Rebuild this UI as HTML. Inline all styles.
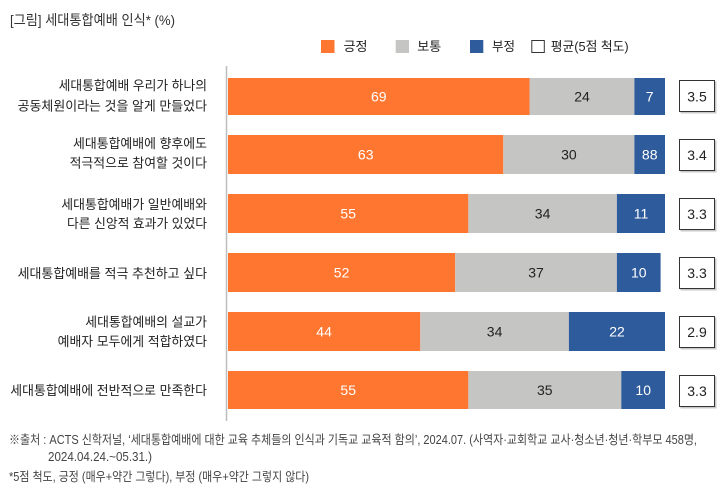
<!DOCTYPE html>
<html><head><meta charset="utf-8"><style>
html,body{margin:0;padding:0;background:#fff;}
svg{display:block;}
.k{font-family:"Liberation Sans","Noto Sans CJK KR",sans-serif;}
</style></head><body>
<svg width="728" height="490" viewBox="0 0 728 490" xmlns="http://www.w3.org/2000/svg">
<rect width="728" height="490" fill="#fff"/>
<!-- title -->
<text class="k" x="10" y="25" font-size="14" fill="#333" textLength="165" lengthAdjust="spacingAndGlyphs">[그림] 세대통합예배 인식* (%)</text>
<!-- legend -->
<rect x="321" y="40" width="13.5" height="13" fill="#FF7630"/>
<text class="k" x="343.5" y="51" font-size="13" fill="#222" textLength="24" lengthAdjust="spacingAndGlyphs">긍정</text>
<rect x="395.7" y="40" width="13.3" height="13" fill="#C5C5C3"/>
<text class="k" x="417.3" y="51" font-size="13" fill="#222" textLength="24" lengthAdjust="spacingAndGlyphs">보통</text>
<rect x="470" y="40" width="13.3" height="13" fill="#2E5B9B"/>
<text class="k" x="492" y="51" font-size="13" fill="#222" textLength="23" lengthAdjust="spacingAndGlyphs">부정</text>
<rect x="531.8" y="40.5" width="12.5" height="12" fill="#fff" stroke="#333" stroke-width="1"/>
<text class="k" x="550.7" y="51" font-size="13" fill="#222" textLength="78" lengthAdjust="spacingAndGlyphs">평균(5점 척도)</text>
<!-- axis -->
<line x1="226.5" y1="66" x2="226.5" y2="421" stroke="#BDBDBD" stroke-width="1.5"/>

<!-- row labels -->
<g class="k" font-size="13" fill="#222" text-anchor="end">
<text x="207" y="90" textLength="148.4" lengthAdjust="spacingAndGlyphs">세대통합예배 우리가 하나의</text>
<text x="207" y="110.5" textLength="189.4" lengthAdjust="spacingAndGlyphs">공동체원이라는 것을 알게 만들었다</text>
<text x="207" y="148" textLength="134" lengthAdjust="spacingAndGlyphs">세대통합예배에 향후에도</text>
<text x="207" y="167.5" textLength="137.4" lengthAdjust="spacingAndGlyphs">적극적으로 참여할 것이다</text>
<text x="207" y="209" textLength="145.7" lengthAdjust="spacingAndGlyphs">세대통합예배가 일반예배와</text>
<text x="207" y="228" textLength="140" lengthAdjust="spacingAndGlyphs">다른 신앙적 효과가 있었다</text>
<text x="207" y="278" textLength="189.4" lengthAdjust="spacingAndGlyphs">세대통합예배를 적극 추천하고 싶다</text>
<text x="207" y="326.5" textLength="121.7" lengthAdjust="spacingAndGlyphs">세대통합예배의 설교가</text>
<text x="207" y="345.8" textLength="149.4" lengthAdjust="spacingAndGlyphs">예배자 모두에게 적합하였다</text>
<text x="207" y="394.8" textLength="196.7" lengthAdjust="spacingAndGlyphs">세대통합예배에 전반적으로 만족한다</text>
</g>

<!-- bars -->
<g>
<rect x="228" y="78" width="301.5" height="37" fill="#FF7630"/>
<rect x="529.5" y="78" width="104.9" height="37" fill="#C5C5C3"/>
<rect x="634.4" y="78" width="30.6" height="37" fill="#2E5B9B"/>

<rect x="228" y="135" width="275.3" height="39" fill="#FF7630"/>
<rect x="503.3" y="135" width="131.1" height="39" fill="#C5C5C3"/>
<rect x="634.4" y="135" width="30.6" height="39" fill="#2E5B9B"/>

<rect x="228" y="194" width="240.35" height="39" fill="#FF7630"/>
<rect x="468.35" y="194" width="148.55" height="39" fill="#C5C5C3"/>
<rect x="616.9" y="194" width="48.1" height="39" fill="#2E5B9B"/>

<rect x="228" y="253" width="227.2" height="39" fill="#FF7630"/>
<rect x="455.2" y="253" width="161.7" height="39" fill="#C5C5C3"/>
<rect x="616.9" y="253" width="43.7" height="39" fill="#2E5B9B"/>

<rect x="228" y="312" width="192.3" height="39" fill="#FF7630"/>
<rect x="420.3" y="312" width="148.6" height="39" fill="#C5C5C3"/>
<rect x="568.9" y="312" width="96.1" height="39" fill="#2E5B9B"/>

<rect x="228" y="371" width="240.35" height="38" fill="#FF7630"/>
<rect x="468.35" y="371" width="152.95" height="38" fill="#C5C5C3"/>
<rect x="621.3" y="371" width="43.7" height="38" fill="#2E5B9B"/>
</g>

<!-- bar values -->
<g class="k" font-size="14" text-anchor="middle">
<text x="378.8" y="101.5" fill="#fff">69</text>
<text x="582" y="101.5" fill="#222">24</text>
<text x="649.7" y="101.5" fill="#fff">7</text>

<text x="365.7" y="159.5" fill="#fff">63</text>
<text x="568.9" y="159.5" fill="#222">30</text>
<text x="649.7" y="159.5" fill="#fff">88</text>

<text x="348.2" y="218.5" fill="#fff">55</text>
<text x="542.6" y="218.5" fill="#222">34</text>
<text x="641" y="218.5" fill="#fff">11</text>

<text x="341.6" y="277.5" fill="#fff">52</text>
<text x="536" y="277.5" fill="#222">37</text>
<text x="638.8" y="277.5" fill="#fff">10</text>

<text x="324.1" y="336.5" fill="#fff">44</text>
<text x="494.6" y="336.5" fill="#222">34</text>
<text x="617" y="336.5" fill="#fff">22</text>

<text x="348.2" y="395" fill="#fff">55</text>
<text x="544.8" y="395" fill="#222">35</text>
<text x="643.2" y="395" fill="#fff">10</text>
</g>

<!-- average boxes -->
<g>
<rect x="680.5" y="81.5" width="36" height="32" fill="#C8C8C8"/>
<rect x="679.5" y="80.5" width="35" height="31" fill="#fff" stroke="#333" stroke-width="1"/>
<rect x="680.5" y="140.5" width="36" height="32" fill="#C8C8C8"/>
<rect x="679.5" y="139.5" width="35" height="31" fill="#fff" stroke="#333" stroke-width="1"/>
<rect x="680.5" y="199.5" width="36" height="32" fill="#C8C8C8"/>
<rect x="679.5" y="198.5" width="35" height="31" fill="#fff" stroke="#333" stroke-width="1"/>
<rect x="680.5" y="258.5" width="36" height="32" fill="#C8C8C8"/>
<rect x="679.5" y="257.5" width="35" height="31" fill="#fff" stroke="#333" stroke-width="1"/>
<rect x="680.5" y="317.5" width="36" height="32" fill="#C8C8C8"/>
<rect x="679.5" y="316.5" width="35" height="31" fill="#fff" stroke="#333" stroke-width="1"/>
<rect x="680.5" y="376.5" width="36" height="32" fill="#C8C8C8"/>
<rect x="679.5" y="375.5" width="35" height="31" fill="#fff" stroke="#333" stroke-width="1"/>
</g>
<g class="k" font-size="14" fill="#222" text-anchor="middle">
<text x="697" y="101.5">3.5</text>
<text x="697" y="160">3.4</text>
<text x="697" y="219">3.3</text>
<text x="697" y="278">3.3</text>
<text x="697" y="337">2.9</text>
<text x="697" y="396">3.3</text>
</g>

<!-- footnotes -->
<g class="k" font-size="12.5" fill="#444">
<text x="9" y="444" textLength="688" lengthAdjust="spacingAndGlyphs">※출처 : ACTS 신학저널, ‘세대통합예배에 대한 교육 추체들의 인식과 기독교 교육적 함의’, 2024.07. (사역자·교회학교 교사·청소년·청년·학부모 458명,</text>
<text x="48" y="461" textLength="104" lengthAdjust="spacingAndGlyphs">2024.04.24.~05.31.)</text>
<text x="9" y="481" textLength="300" lengthAdjust="spacingAndGlyphs">*5점 척도, 긍정 (매우+약간 그렇다), 부정 (매우+약간 그렇지 않다)</text>
</g>
</svg>
</body></html>
